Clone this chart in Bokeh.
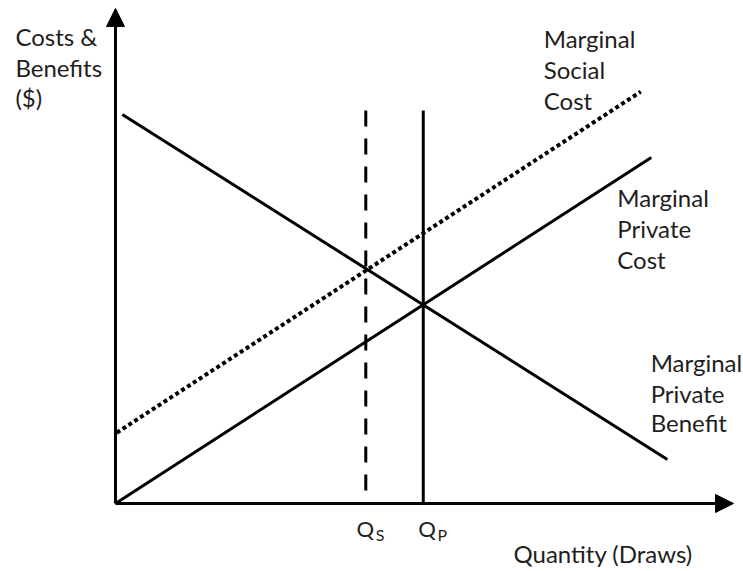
from bokeh.plotting import figure
from bokeh.models import Range1d, Arrow, NormalHead
from bokeh.core.properties import value
from bokeh.embed import file_html
from bokeh.resources import INLINE

# ---- data ----
q_social = 40.5
q_private = 49.8
q_top = 79.4

mpb_x = [1.1, 89.3]
mpb_y = [78.6, 8.9]

mpc_x = [0.0, 86.7]
mpc_y = [0.0, 69.9]

msc_x = [0.2, 85.0]
msc_y = [14.3, 83.2]

axis_max_x = 100.0
axis_max_y = 100.0

y_title = ["Costs &", "Benefits", "($)"]
msc_label = ["Marginal", "Social", "Cost"]
mpc_label = ["Marginal", "Private", "Cost"]
mpb_label = ["Marginal", "Private", "Benefit"]
x_title = "Quantity (Draws)"
q_labels = ["Q", "Q"]
q_subs = ["S", "P"]

FONT = value("Lato")
TXT = "#1e1e1e"
DY = 1.8  # text baseline correction

p = figure(width=743, height=571, output_backend="svg", toolbar_location=None,
           x_range=Range1d(-18.61, 101.62), y_range=Range1d(-13.74, 101.62),
           min_border=0, min_border_left=0, min_border_right=0,
           min_border_top=0, min_border_bottom=0,
           x_axis_location=None, y_axis_location=None)
p.outline_line_color = None
p.xgrid.visible = False
p.ygrid.visible = False
p.background_fill_color = "white"
p.border_fill_color = "white"

# axes with arrow heads
p.add_layout(Arrow(x_start=0, y_start=0, x_end=0, y_end=axis_max_y,
                   line_width=3, line_color="black",
                   end=NormalHead(size=18, fill_color="black", line_color="black", line_width=1)))
p.add_layout(Arrow(x_start=0, y_start=0, x_end=axis_max_x, y_end=0,
                   line_width=3, line_color="black",
                   end=NormalHead(size=18, fill_color="black", line_color="black", line_width=1)))

# curves
p.line(mpb_x, mpb_y, line_width=3, line_color="black")
p.line(mpc_x, mpc_y, line_width=3, line_color="black")
p.line(msc_x, msc_y, line_width=4, line_color="black", line_dash="4 3", line_cap="butt")

# quantity lines (dash pattern starts at the top)
p.line([q_social, q_social], [q_top, 0], line_width=3, line_color="black", line_dash="16 12")
p.line([q_private, q_private], [q_top, 0], line_width=3, line_color="black")

def label_block(lines, x, ys):
    p.text(x=[x] * len(lines), y=[v + DY for v in ys], text=lines, text_font=FONT,
           text_font_size="24px", text_color=TXT, text_baseline="alphabetic",
           text_align="left")

label_block(y_title, -16.2, [92.5, 86.2, 80.2])
label_block(msc_label, 69.3, [92.1, 85.9, 79.6])
label_block(mpc_label, 81.2, [60.0, 53.7, 47.5])
label_block(mpb_label, 86.6, [26.7, 20.4, 14.5])

p.text(x=[64.4], y=[-11.9 + DY], text=[x_title], text_font=FONT, text_font_size="24px",
       text_color=TXT, text_baseline="alphabetic")

# Q labels with subscripts
p.text(x=[39.0, 49.0], y=[-6.9 + DY, -6.9 + DY], text=q_labels, text_font=FONT,
       text_font_size="22px", text_color=TXT, text_baseline="alphabetic")
p.text(x=[42.1, 52.1], y=[-8.1 + DY, -8.1 + DY], text=q_subs, text_font=FONT,
       text_font_size="16px", text_color=TXT, text_baseline="alphabetic")

open("out.html", "w").write(file_html(p, INLINE))
